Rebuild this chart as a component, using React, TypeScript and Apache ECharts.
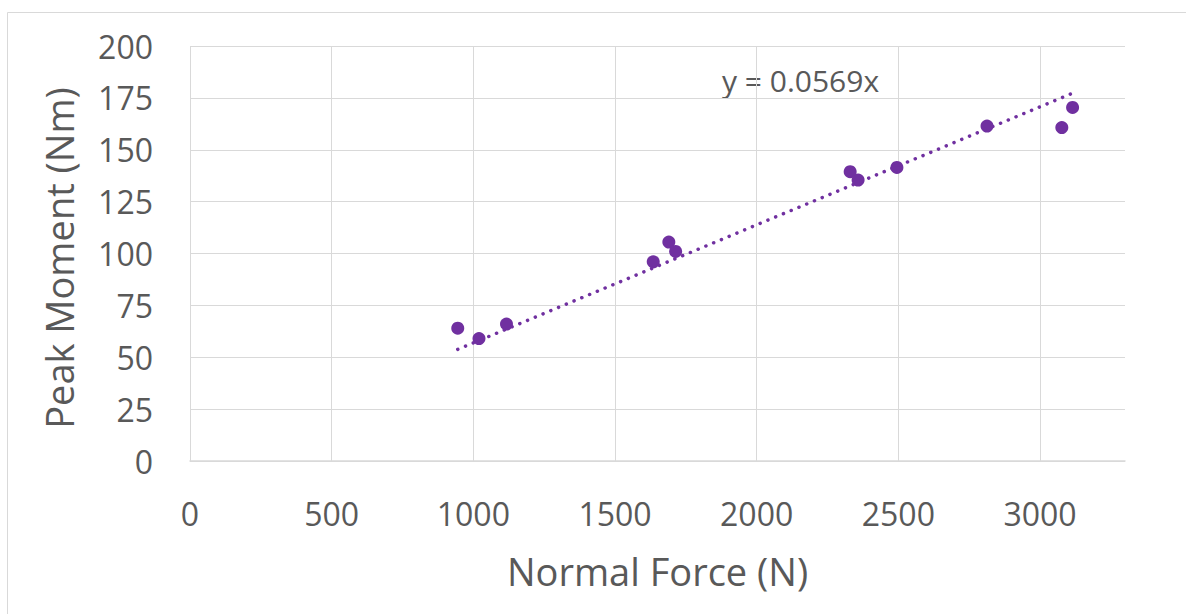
import React, { useEffect, useRef } from "react";
import * as echarts from "echarts";

const normalForce: number[] = [945, 1020, 1117, 1635, 1690, 1714, 2330, 2358, 2495, 2813, 3077, 3115];
const peakMoment: number[] = [64, 59, 66, 96, 105.5, 101, 139.4, 135.4, 141.5, 161.4, 160.7, 170.4];
const trendSlope = 0.0569;
const equationLabel = "y = 0.0569x";
const xTitle = "Normal Force (N)";
const yTitle = "Peak Moment (Nm)";

const TEXT = "#595959";
const GRID = "#d9d9d9";
const PURPLE = "#7030A0";
const FONT = "'Open Sans', 'Noto Sans', sans-serif";

export default function App() {
  const ref = useRef<HTMLDivElement>(null);
  useEffect(() => {
    if (!ref.current) return;
    const chart = echarts.init(ref.current, undefined, { renderer: "svg" });
    const points = normalForce.map((x, i) => [x, peakMoment[i]]);
    const xMin = Math.min(...normalForce);
    const xMax = Math.max(...normalForce);
    const trend = [
      [xMin, trendSlope * xMin],
      [xMax, trendSlope * xMax],
    ];
    chart.setOption({
      animation: false,
      backgroundColor: "#ffffff",
      textStyle: { fontFamily: FONT },
      grid: { left: 190, right: 61, top: 46, bottom: 153, containLabel: false },
      xAxis: {
        type: "value",
        min: 0,
        max: 3300,
        interval: 500,
        axisLine: { show: true, lineStyle: { color: GRID, width: 1.5 } },
        axisTick: { show: false },
        axisLabel: {
          showMaxLabel: false,
          color: TEXT,
          fontSize: 32,
          fontFamily: FONT,
          margin: 36,
          formatter: (v: number) => String(v),
        },
        splitLine: { show: true, showMaxLine: false, lineStyle: { color: GRID, width: 1 } },
      },
      yAxis: {
        type: "value",
        min: 0,
        max: 200,
        interval: 25,
        axisLine: { show: false },
        axisTick: { show: false },
        axisLabel: {
          color: TEXT,
          fontSize: 32,
          fontFamily: FONT,
          margin: 37,
          formatter: (v: number) => String(v),
        },
        splitLine: { show: true, lineStyle: { color: GRID, width: 1 } },
      },
      series: [
        {
          type: "scatter",
          data: points,
          symbol: "circle",
          symbolSize: 13,
          itemStyle: { color: PURPLE, opacity: 1 },
          z: 2,
        },
        {
          type: "line",
          data: trend,
          symbol: "none",
          silent: true,
          lineStyle: { color: PURPLE, width: 3.5, type: [0.1, 8.3], cap: "round" },
          z: 3,
        },
      ],
      graphic: [
        {
          type: "rect",
          left: 5,
          top: 10,
          shape: { x: 0.5, y: 0.5, width: 1400, height: 800 },
          style: { fill: "none", stroke: GRID, lineWidth: 1 },
          silent: true,
        },
        {
          type: "text",
          x: 722,
          y: 80,
          style: {
            text: equationLabel,
            fill: TEXT,
            font: `30px ${FONT}`,
            textAlign: "left",
            textVerticalAlign: "middle",
          },
        },
        {
          type: "text",
          x: 657.5,
          y: 571,
          style: {
            text: xTitle,
            fill: TEXT,
            font: `38px ${FONT}`,
            textAlign: "center",
            textVerticalAlign: "middle",
          },
        },
        {
          type: "text",
          x: 59,
          y: 258,
          rotation: Math.PI / 2,
          style: {
            text: yTitle,
            fill: TEXT,
            font: `38px ${FONT}`,
            textAlign: "center",
            textVerticalAlign: "middle",
          },
        },
      ],
    });
    return () => chart.dispose();
  }, []);
  return (
    <div
      ref={ref}
      style={{ position: "fixed", left: 0, top: 0, width: 1186, height: 614 }}
    />
  );
}
